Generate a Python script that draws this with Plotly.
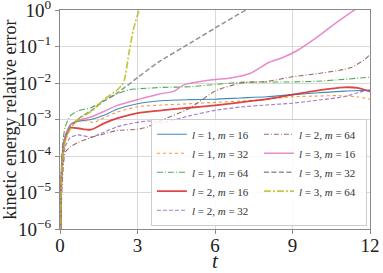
import plotly.graph_objects as go

# ---- data ----
t_l1m16 = [0, 0.04, 0.1, 0.2, 0.4, 0.7, 1.2, 1.7, 2.2, 3, 4, 5, 6, 7, 8, 9, 10, 11, 12]
e_l1m16 = [1e-8, 8e-6, 1.1e-4, 3.2e-4, 7.1e-4, 8.9e-4, 1.0e-3, 1.3e-3, 1.9e-3, 2.7e-3, 3.3e-3, 3.5e-3, 3.6e-3, 3.9e-3, 4.2e-3, 4.8e-3, 5.4e-3, 6.0e-3, 6.3e-3]

t_l1m32 = [0, 0.04, 0.1, 0.2, 0.4, 0.7, 1.0, 1.3, 1.7, 2.2, 3, 4, 5, 6, 7, 8, 9, 10, 10.7, 11.5, 12]
e_l1m32 = [1e-8, 6.3e-6, 7.9e-5, 2.5e-4, 6.3e-4, 8.9e-4, 9.3e-4, 8.3e-4, 1.12e-3, 1.58e-3, 2.24e-3, 2.5e-3, 2.7e-3, 2.95e-3, 3.2e-3, 3.55e-3, 4.2e-3, 4.4e-3, 4.5e-3, 4.2e-3, 3.6e-3]

t_l1m64 = [0, 0.04, 0.1, 0.2, 0.4, 0.7, 1.2, 1.7, 2.2, 2.7, 3, 4, 5, 6, 7, 8, 9, 10, 11, 12]
e_l1m64 = [1e-8, 2.5e-5, 2.0e-4, 6.3e-4, 1.26e-3, 1.74e-3, 2.1e-3, 3.3e-3, 5.0e-3, 6.6e-3, 6.9e-3, 7.6e-3, 7.9e-3, 9.1e-3, 1.05e-2, 1.07e-2, 1.07e-2, 1.12e-2, 1.26e-2, 1.45e-2]

t_l2m16 = [0, 0.04, 0.1, 0.2, 0.4, 0.7, 1.2, 1.7, 2.2, 3, 4, 5, 6, 7, 8, 9, 10, 11, 11.5, 12]
e_l2m16 = [1e-8, 1e-5, 1e-4, 3.2e-4, 5.9e-4, 5.75e-4, 5.25e-4, 7.8e-4, 1.07e-3, 1.5e-3, 1.8e-3, 2.1e-3, 2.45e-3, 2.95e-3, 3.6e-3, 4.8e-3, 6.3e-3, 7.6e-3, 7.4e-3, 5.9e-3]

t_l2m32 = [0, 0.04, 0.1, 0.2, 0.4, 0.7, 1.2, 1.7, 2.2, 2.8, 3.4, 4.0, 5, 6, 7, 8, 9, 10, 11, 11.6, 12]
e_l2m32 = [1e-8, 5e-6, 5e-5, 1.78e-4, 3.2e-4, 3.8e-4, 3.3e-4, 4.5e-4, 6.3e-4, 7.9e-4, 9.1e-4, 8.3e-4, 1.26e-3, 1.78e-3, 2.2e-3, 2.5e-3, 2.8e-3, 3.4e-3, 4.2e-3, 5.6e-3, 6.6e-3]

t_l2m64 = [0, 0.04, 0.1, 0.2, 0.4, 0.7, 1.2, 1.7, 2.2, 3, 3.4, 4, 5, 6, 7, 8, 9, 10, 11, 11.3, 11.8, 12]
e_l2m64 = [1e-8, 2.5e-6, 2.5e-5, 1.26e-4, 1.78e-4, 2.35e-4, 3.2e-4, 4.0e-4, 5.0e-4, 5.4e-4, 6.3e-4, 1.0e-3, 2.0e-3, 6.0e-3, 1.0e-2, 1.1e-2, 1.48e-2, 1.82e-2, 2.35e-2, 2.7e-2, 4.4e-2, 6.0e-2]

t_l3m16 = [0, 0.04, 0.1, 0.2, 0.4, 0.7, 1.2, 1.7, 2.2, 3, 3.85, 4.4, 4.8, 5.9, 6.6, 7.35, 8.1, 8.6, 9.2, 9.9, 10.5, 11.15, 11.5]
e_l3m16 = [1e-8, 1e-5, 1e-4, 3.5e-4, 7.1e-4, 9.5e-4, 1.17e-3, 1.66e-3, 2.4e-3, 3.5e-3, 5.0e-3, 5.9e-3, 8.9e-3, 1.23e-2, 1.38e-2, 1.82e-2, 3.7e-2, 4.9e-2, 7.9e-2, 0.17, 0.355, 0.76, 1.12]

t_l3m32 = [0, 0.04, 0.1, 0.2, 0.4, 0.8, 1.2, 1.7, 2.2, 3, 3.8, 5.15, 6, 7.2, 7.5]
e_l3m32 = [1e-8, 1.26e-5, 1e-4, 3.2e-4, 6.3e-4, 1.17e-3, 1.74e-3, 3.2e-3, 5.2e-3, 1.4e-2, 3.7e-2, 0.138, 0.32, 1.0, 1.26]

t_l3m64 = [0, 0.04, 0.1, 0.2, 0.4, 0.7, 1.2, 1.7, 2.2, 2.4, 2.5, 2.68, 2.84, 3.06, 3.1]
e_l3m64 = [1e-8, 1e-5, 7.9e-5, 2.5e-4, 5.6e-4, 1.0e-3, 1.66e-3, 3.5e-3, 6.3e-3, 8.9e-3, 1.26e-2, 7.4e-2, 0.29, 1.0, 1.2]

series_names = ["<i>l</i> = 1, <i>m</i> = 16", "<i>l</i> = 1, <i>m</i> = 32", "<i>l</i> = 1, <i>m</i> = 64",
                "<i>l</i> = 2, <i>m</i> = 16", "<i>l</i> = 2, <i>m</i> = 32", "<i>l</i> = 2, <i>m</i> = 64",
                "<i>l</i> = 3, <i>m</i> = 16", "<i>l</i> = 3, <i>m</i> = 32", "<i>l</i> = 3, <i>m</i> = 64"]
series_t = [t_l1m16, t_l1m32, t_l1m64, t_l2m16, t_l2m32, t_l2m64, t_l3m16, t_l3m32, t_l3m64]
series_e = [e_l1m16, e_l1m32, e_l1m64, e_l2m16, e_l2m32, e_l2m64, e_l3m16, e_l3m32, e_l3m64]

x_ticks = [0, 3, 6, 9, 12]
y_tickvals = [1, 1e-1, 1e-2, 1e-3, 1e-4, 1e-5, 1e-6]
y_ticktext = ["10<sup>0</sup>", "10<sup>\u22121</sup>", "10<sup>\u22122</sup>", "10<sup>\u22123</sup>",
              "10<sup>\u22124</sup>", "10<sup>\u22125</sup>", "10<sup>\u22126</sup>"]

# ---- styles ----
colors = ["#1f77b4", "#ff7f0e", "#2ca02c", "#d62728", "#9467bd", "#8c564b", "#e377c2", "#7f7f7f", "#bcbd22"]
dashes = ["solid", "dot", "6px,2px,1px,2px", "solid", "4px,2px", "5px,2px,1px,2px", "solid", "5px,2.5px", "7px,2px,2px,2px"]
widths = [1.1, 1.1, 1.1, 1.8, 1.1, 1.1, 1.5, 1.5, 1.7]
# column-major ordering in a 2-column legend
ranks = [1, 3, 5, 7, 9, 2, 4, 6, 8]

FONT = "'Liberation Serif', 'Times New Roman', serif"

fig = go.Figure()
for i in range(9):
    fig.add_trace(go.Scatter(
        x=series_t[i], y=series_e[i], mode="lines", name=series_names[i],
        line=dict(color=colors[i], width=widths[i], dash=dashes[i], shape="spline", smoothing=0.6),
        opacity=0.85, legendrank=ranks[i],
    ))

fig.update_layout(
    width=383, height=273,
    margin=dict(l=60, r=13, t=10, b=44, autoexpand=False),
    paper_bgcolor="white", plot_bgcolor="white",
    font=dict(family=FONT, size=19, color="#222"),
    showlegend=True,
    legend=dict(
        orientation="h", x=0.99, y=0.015, xanchor="right", yanchor="bottom",
        entrywidth=62, entrywidthmode="pixels",
        font=dict(family=FONT, size=11, color="#333"),
        bgcolor="rgba(255,255,255,0.85)", bordercolor="#cccccc", borderwidth=1,
        itemwidth=30, traceorder="normal",
    ),
    xaxis=dict(
        range=[0, 12], tickvals=x_ticks, ticktext=[str(v) for v in x_ticks],
        showgrid=True, gridcolor="#d9d9d9", gridwidth=1,
        showline=True, linecolor="#8a8a8a", linewidth=1.2, mirror=True,
        ticks="outside", ticklen=4, tickcolor="#8a8a8a",
        zeroline=False, automargin=True, ticklabeloverflow="allow",
        ticklabelstandoff=-5,
        tickfont=dict(family=FONT, size=19),
        title=dict(text="<i>t</i>", font=dict(family=FONT, size=21), standoff=4),
    ),
    yaxis=dict(
        type="log", range=[-6, 0], tickvals=y_tickvals, ticktext=y_ticktext,
        showgrid=True, gridcolor="#d9d9d9", gridwidth=1,
        showline=True, linecolor="#8a8a8a", linewidth=1.2, mirror=True,
        ticks="outside", ticklen=4, tickcolor="#8a8a8a",
        zeroline=False, automargin=False, ticklabeloverflow="allow",
        tickfont=dict(family=FONT, size=19),
        title=dict(text="kinetic energy relative error", font=dict(family=FONT, size=18), standoff=0),
    ),
)

fig.write_html("out.html", config={"displayModeBar": False},
               post_script="document.body.style.margin='0px';")
